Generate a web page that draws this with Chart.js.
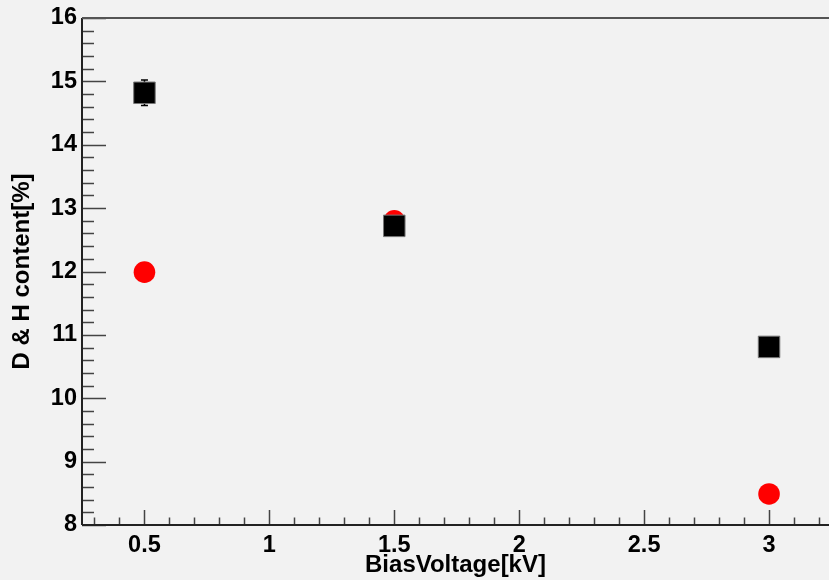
<!DOCTYPE html>
<html>
<head>
<meta charset="utf-8">
<script src="https://cdn.jsdelivr.net/npm/chart.js@4.4.1/dist/chart.umd.min.js"></script>
<style>
  html, body { margin:0; padding:0; background:#f2f2f2; }
  #wrap { width:829px; height:580px; }
</style>
</head>
<body>
<div id="wrap"><canvas id="chart" width="829" height="580"></canvas></div>
<script>
// data
const biasVoltage = [0.5, 1.5, 3.0];
const blackContent = [14.82, 12.72, 10.81];
const blackError = [0.2, 0.1, 0.1];
const redContent = [11.99, 12.80, 8.49];
const redError = [0.1, 0.1, 0.1];

const xTicks = [0.5, 1, 1.5, 2, 2.5, 3];
const xTickLabels = ['0.5', '1', '1.5', '2', '2.5', '3'];
const yTicks = [8, 9, 10, 11, 12, 13, 14, 15, 16];
const yTickLabels = ['8', '9', '10', '11', '12', '13', '14', '15', '16'];

const FONT = '"Liberation Sans", Arial, Helvetica, sans-serif';

// ROOT-like frame: background, inner ticks, axis lines, error bars
const rootFrame = {
  id: 'rootFrame',
  beforeDraw(chart){
    const ctx = chart.ctx;
    ctx.save();
    ctx.fillStyle = '#f2f2f2';
    ctx.fillRect(0, 0, chart.width, chart.height);
    ctx.restore();
  },
  beforeDatasetsDraw(chart){
    const ctx = chart.ctx, xs = chart.scales.x, ys = chart.scales.y;
    const sets = [[blackContent, blackError], [redContent, redError]];
    ctx.save();
    ctx.strokeStyle = '#000';
    ctx.lineWidth = 1.5;
    sets.forEach(([vals, errs])=>{
      vals.forEach((v, i)=>{
        const x = xs.getPixelForValue(biasVoltage[i]);
        const yt = ys.getPixelForValue(v + errs[i]);
        const yb = ys.getPixelForValue(v - errs[i]);
        ctx.beginPath();
        ctx.moveTo(x, yt); ctx.lineTo(x, yb);
        ctx.moveTo(x - 3.5, yt); ctx.lineTo(x + 3.5, yt);
        ctx.moveTo(x - 3.5, yb); ctx.lineTo(x + 3.5, yb);
        ctx.stroke();
      });
    });
    ctx.restore();
  },
  afterDatasetsDraw(chart){
    const ctx = chart.ctx, xs = chart.scales.x, ys = chart.scales.y;
    const a = chart.chartArea;
    ctx.save();
    // ticks inside the frame
    ctx.strokeStyle = '#444';
    ctx.lineWidth = 1.5;
    ctx.beginPath();
    for(let k = 3; k <= 32; k++){
      const x = Math.round(xs.getPixelForValue(k / 10)) + 0.5;
      const len = (k % 5 === 0) ? 15 : 7.5;
      ctx.moveTo(x, a.bottom); ctx.lineTo(x, a.bottom - len);
    }
    for(let k = 40; k <= 80; k++){
      const y = Math.round(ys.getPixelForValue(k / 5)) + 0.5;
      const len = (k % 5 === 0) ? 24 : 12;
      ctx.moveTo(a.left, y); ctx.lineTo(a.left + len, y);
    }
    ctx.stroke();
    // axes
    ctx.strokeStyle = '#222';
    ctx.lineWidth = 2;
    ctx.beginPath();
    ctx.moveTo(a.left, a.top); ctx.lineTo(a.left, a.bottom);
    ctx.moveTo(a.left, a.bottom); ctx.lineTo(chart.width, a.bottom);
    ctx.stroke();
    ctx.strokeStyle = '#555';
    ctx.beginPath();
    ctx.moveTo(a.left, a.top); ctx.lineTo(chart.width, a.top);
    ctx.stroke();
    ctx.restore();
  }
};

new Chart(document.getElementById('chart').getContext('2d'), {
  type: 'scatter',
  data: {
    datasets: [
      {
        label: 'black',
        data: biasVoltage.map((x, i)=>({ x, y: blackContent[i] })),
        pointStyle: 'rect',
        pointRadius: 15.2,
        pointHoverRadius: 15.2,
        backgroundColor: '#000',
        borderColor: '#777',
        borderWidth: 1
      },
      {
        label: 'red',
        data: biasVoltage.map((x, i)=>({ x, y: redContent[i] })),
        pointStyle: 'circle',
        pointRadius: 10.8,
        pointHoverRadius: 10.8,
        backgroundColor: '#ff0000',
        borderColor: '#ff0000',
        borderWidth: 0
      }
    ]
  },
  options: {
    responsive: false,
    animation: false,
    layout: { autoPadding: false, padding: { top: 18, left: 0, right: 0, bottom: 0 } },
    plugins: { legend: { display: false }, tooltip: { enabled: false } },
    scales: {
      x: {
        type: 'linear',
        min: 0.25,
        max: 3.24,
        grid: { display: false, drawTicks: false },
        border: { display: false },
        afterBuildTicks: s => { s.ticks = xTicks.map(v=>({ value: v })); },
        afterFit: s => { s.height = 55; s.paddingLeft = 0; s.paddingRight = 0; },
        ticks: {
          autoSkip: false, maxRotation: 0, padding: 6, color: '#000',
          font: { family: FONT, size: 23.5, weight: 'bold' },
          callback: (v) => xTickLabels[xTicks.indexOf(v)]
        },
        title: {
          display: true, text: 'BiasVoltage[kV]', color: '#000',
          font: { family: FONT, size: 24, weight: 'bold' },
          padding: { top: 0, bottom: 0 }
        }
      },
      y: {
        type: 'linear',
        min: 8,
        max: 16,
        grid: { display: false, drawTicks: false },
        border: { display: false },
        afterBuildTicks: s => { s.ticks = yTicks.map(v=>({ value: v })); },
        afterFit: s => { s.width = 82; s.paddingTop = 0; s.paddingBottom = 0; },
        ticks: {
          autoSkip: false, padding: 5, color: '#000',
          font: { family: FONT, size: 23.5, weight: 'bold' },
          callback: (v) => yTickLabels[yTicks.indexOf(v)]
        },
        title: {
          display: true, text: 'D & H content[%]', color: '#000',
          font: { family: FONT, size: 24, weight: 'bold' },
          padding: { top: 8, bottom: 0 }
        }
      }
    }
  },
  plugins: [rootFrame]
});
</script>
</body>
</html>
